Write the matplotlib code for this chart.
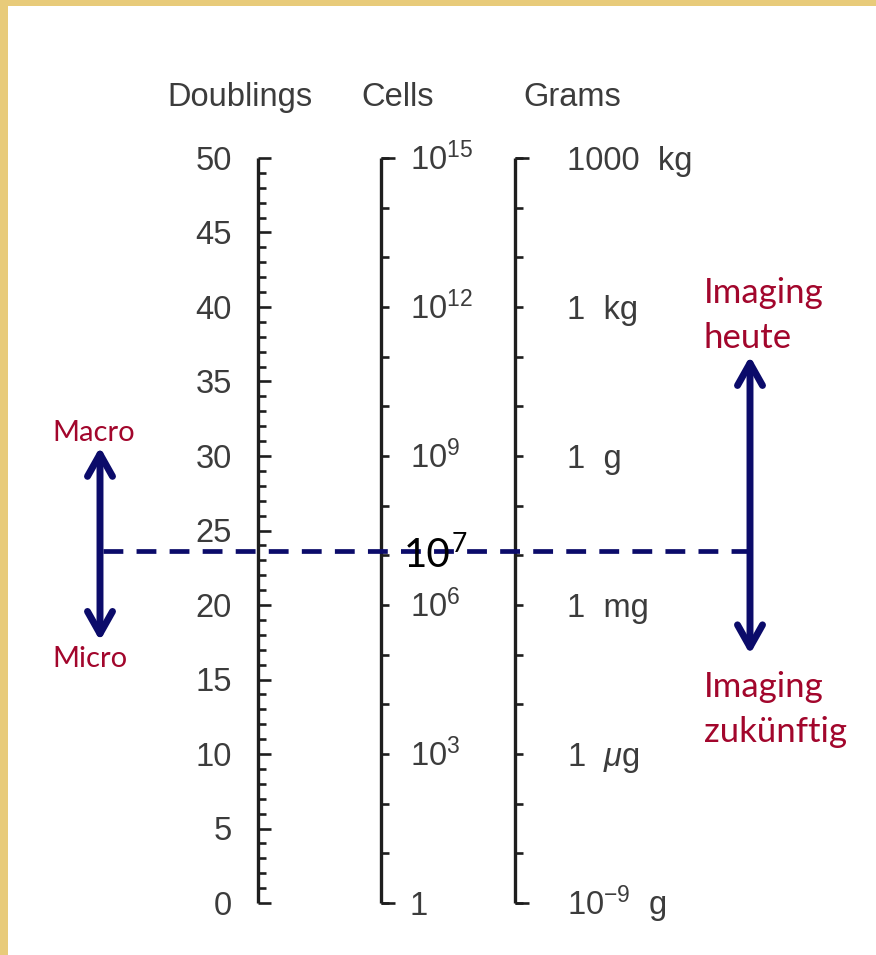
'''
Tumour growth scale: doublings vs. number of cells vs. mass,
with the detection limits of imaging marked.
'''

import matplotlib.pyplot as plt
from matplotlib.patches import Rectangle

# --- data ---------------------------------------------------------------
doublings = list(range(0, 51))               # minor ticks, every doubling
doubling_labels = [0, 5, 10, 15, 20, 25, 30, 35, 40, 45, 50]
cell_exponents = list(range(0, 16))          # one tick per decade of cells
cell_label_exp = [0, 3, 6, 9, 12, 15]
cell_labels = ['1', '$10^3$', '$10^6$', '$10^9$', '$10^{12}$', '$10^{15}$']
gram_labels = ['$10^{-9}$  g', '1  $\\mu$g', '1  mg', '1  g', '1  kg', '1000  kg']
headers = ['Doublings', 'Cells', 'Grams']

threshold_doubling = 23.6      # dashed line: 10^7 cells
macro_micro = (30.6, 17.6)      # left arrow ends (doublings)
imaging_range = (36.7, 16.7)    # right arrow ends (doublings)

# --- pixel helpers ------------------------------------------------------
W, H = 876, 955
Y0, PX_PER_D = 903, 14.9       # pixel row of 0 doublings, pixels per doubling


def d(y_px):
    '''Pixel row -> doubling units.'''
    return (Y0 - y_px) / PX_PER_D


def exp_to_d(e):
    '''Cell exponent (10^e) -> position on the doubling scale.'''
    return e * 50 / 15


INK = '#1e1e1e'
TXT = '#3c3c3c'
RED = '#a2062c'
NAVY = '#0b0b6a'

plt.rcParams['mathtext.fontset'] = 'custom'
plt.rcParams['mathtext.rm'] = 'Liberation Sans'
plt.rcParams['mathtext.it'] = 'Liberation Sans:italic'

fig = plt.figure(figsize=(W / 100, H / 100), dpi=100)
ax = fig.add_axes([0, 0, 1, 1])
ax.set_xlim(0, W)
ax.set_ylim(d(H), d(0))
ax.axis('off')

# gold frame strips (left and top)
fig.patches.append(Rectangle((0, 0), 8 / W, 1, transform=fig.transFigure,
                             facecolor='#e8cb7a', edgecolor='none'))
fig.patches.append(Rectangle((0, 1 - 6 / H), 1, 6 / H, transform=fig.transFigure,
                             facecolor='#e8cb7a', edgecolor='none'))

scale_font = dict(family='Liberation Sans', color=TXT, fontsize=23.5)

# headers
for name, x in zip(headers, [240, 398, 572]):
    ax.text(x, d(106), name, ha='center', va='baseline', **scale_font)

# doublings scale
xd = 258
ax.plot([xd, xd], [0, 50], color=INK, lw=2.4, solid_capstyle='butt')
minor = [v for v in doublings if v not in doubling_labels]
ax.hlines(minor, xd, xd + 8, color=INK, lw=1.9)
ax.hlines(doubling_labels, xd, xd + 13, color=INK, lw=1.9)
for v in doubling_labels:
    ax.annotate(str(v), (232, v), xytext=(0, -8.5), textcoords='offset points',
                ha='right', va='baseline', **scale_font)

# cells scale
xc = 381
cell_d = [exp_to_d(e) for e in cell_exponents]
ax.plot([xc, xc], [0, 50], color=INK, lw=2.4, solid_capstyle='butt')
ax.hlines(cell_d, xc, xc + 8, color=INK, lw=1.9)
ax.hlines([0, 50], xc, xc + 14, color=INK, lw=1.9)
for e, lab in zip(cell_label_exp, cell_labels):
    ax.annotate(lab, (410, exp_to_d(e)), xytext=(0, -8.5),
                textcoords='offset points', ha='left', va='baseline', **scale_font)

# grams scale
xg = 515
ax.plot([xg, xg], [0, 50], color=INK, lw=2.4, solid_capstyle='butt')
ax.hlines(cell_d, xg, xg + 8, color=INK, lw=1.9)
ax.hlines([0, 50], xg, xg + 14, color=INK, lw=1.9)
for e, lab in zip(cell_label_exp, gram_labels):
    ax.annotate(lab, (567, exp_to_d(e)), xytext=(0, -8.5),
                textcoords='offset points', ha='left', va='baseline', **scale_font)

# threshold line
ax.plot([103, 750], [threshold_doubling] * 2, color=NAVY, lw=3.4,
        linestyle=(0, (4.2, 2.8)), zorder=3)
ax.text(404, d(567), '10', family='Lato', fontsize=29, color='black',
        ha='left', va='baseline', zorder=4)
ax.text(452, d(552), '7', family='Lato', fontsize=19, color='black',
        ha='left', va='baseline', zorder=4)

# arrows
arrow = dict(arrowstyle='<->,head_length=0.8,head_width=0.45', color=NAVY,
             lw=5, shrinkA=0, shrinkB=0, mutation_scale=20)
ax.annotate('', xy=(100, macro_micro[0]), xytext=(100, macro_micro[1]),
            arrowprops=arrow)
ax.annotate('', xy=(750, imaging_range[0]), xytext=(750, imaging_range[1]),
            arrowprops=arrow)

small_red = dict(family='Lato', color=RED, fontsize=21, ha='left', va='baseline')
big_red = dict(family='Lato', color=RED, fontsize=25, ha='left', va='baseline')
ax.text(52, d(441), 'Macro', **small_red)
ax.text(52, d(667), 'Micro', **small_red)
ax.text(704, d(303), 'Imaging', **big_red)
ax.text(704, d(348), 'heute', **big_red)
ax.text(704, d(697), 'Imaging', **big_red)
ax.text(704, d(742), 'zukünftig', **big_red)

fig.savefig('out.png', dpi=100)
